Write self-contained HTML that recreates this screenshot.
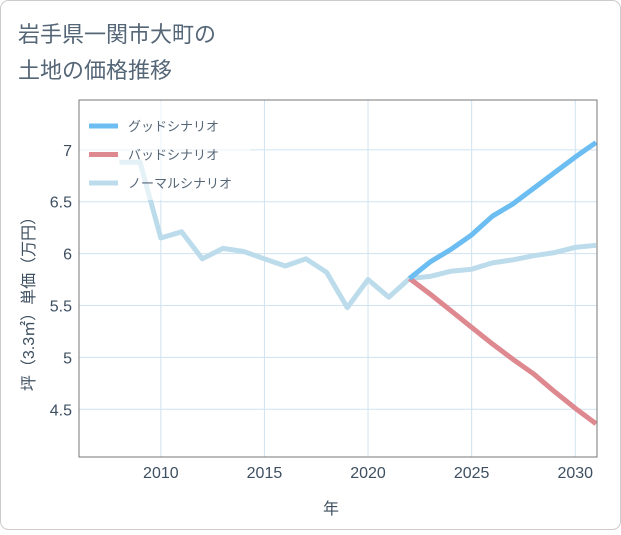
<!DOCTYPE html>
<html><head><meta charset="utf-8"><style>
body{margin:0;background:#fff;}
#wrap{position:relative;width:621px;height:530px;font-family:"Liberation Sans","Noto Sans CJK JP",sans-serif;}
</style></head><body>
<div id="wrap">
<svg id="chart" width="621" height="530" xmlns="http://www.w3.org/2000/svg">
<rect x="0.5" y="0.5" width="620" height="529" rx="8" fill="#fff" stroke="#ccc"/>
<text x="18" y="42" font-size="22" fill="#556677" font-family="Liberation Sans, Noto Sans CJK JP, sans-serif">岩手県一関市大町の</text>
<text x="18" y="78" font-size="22" fill="#556677" font-family="Liberation Sans, Noto Sans CJK JP, sans-serif">土地の価格推移</text>
<g id="grid"></g>
<g id="series"></g>
<rect x="79" y="100" width="518" height="357" fill="none" stroke="#777" stroke-width="1"/>
<g id="legend"></g>
<g id="axes"></g>
<text x="331" y="514" font-size="16" fill="#3d4f60" text-anchor="middle" font-family="Liberation Sans, Noto Sans CJK JP, sans-serif">年</text>
<text transform="translate(34,300) rotate(-90)" font-size="16" fill="#3d4f60" text-anchor="middle" font-family="Liberation Sans, Noto Sans CJK JP, sans-serif">坪（3.3㎡）単価（万円）</text>
</svg>
</div>
<script>
const years = [2008,2009,2010,2011,2012,2013,2014,2015,2016,2017,2018,2019,2020,2021,2022,2023,2024,2025,2026,2027,2028,2029,2030,2031];
const normalValues = [6.88,6.88,6.15,6.21,5.95,6.05,6.02,5.95,5.88,5.95,5.82,5.48,5.75,5.58,5.76,5.78,5.83,5.85,5.91,5.94,5.98,6.01,6.06,6.08];
const goodYears = [2022,2023,2024,2025,2026,2027,2028,2029,2030,2031];
const goodValues = [5.76,5.92,6.04,6.18,6.36,6.48,6.63,6.78,6.93,7.07];
const badYears = [2022,2023,2024,2025,2026,2027,2028,2029,2030,2031];
const badValues = [5.76,5.61,5.45,5.29,5.13,4.98,4.84,4.67,4.51,4.36];
const xTicks = [2010,2015,2020,2025,2030];
const yTicks = [4.5,5,5.5,6,6.5,7];
const yTickLabels = ["4.5","5","5.5","6","6.5","7"];
const legendLabels = ["グッドシナリオ","バッドシナリオ","ノーマルシナリオ"];

const NS="http://www.w3.org/2000/svg";
const L=79,R=597,T=100,B=457;
const xMin=2006.05,xMax=2031.05,yMin=4.04,yMax=7.48;
function xs(v){return L+(v-xMin)/(xMax-xMin)*(R-L);}
function ys(v){return B-(v-yMin)/(yMax-yMin)*(B-T);}
function mk(tag,attrs,parent){const e=document.createElementNS(NS,tag);for(const k in attrs)e.setAttribute(k,attrs[k]);parent.appendChild(e);return e;}
const grid=document.getElementById('grid'),axes=document.getElementById('axes'),series=document.getElementById('series'),legend=document.getElementById('legend');
xTicks.forEach(t=>{
  const l=mk('line',{x1:xs(t),x2:xs(t),y1:T,y2:B,stroke:'#cfe3f0','stroke-width':1},grid);
  
  
  const tx=mk('text',{x:xs(t),y:478,'font-size':16,fill:'#3d4f60','text-anchor':'middle'},axes);
  tx.textContent=t;
  
  
});
yTicks.forEach((t,i)=>{
  const l=mk('line',{x1:L,x2:R,y1:ys(t),y2:ys(t),stroke:'#cfe3f0','stroke-width':1},grid);
  
  
  const tx=mk('text',{x:72,y:ys(t)+6,'font-size':16,fill:'#3d4f60','text-anchor':'end'},axes);
  tx.textContent=yTickLabels[i];
  
  
});
function line(xv,yv,color,name){
  const d=xv.map((x,i)=>(i?'L':'M')+xs(x).toFixed(1)+','+ys(yv[i]).toFixed(1)).join(' ');
  const p=mk('path',{d:d,fill:'none',stroke:color,'stroke-width':5,'stroke-linejoin':'round'},series);
  
  
}
line(years,normalValues,'#bcdcec','normal-scenario-line');
line(badYears,badValues,'#de8890','bad-scenario-line');
line(goodYears,goodValues,'#6cbdf2','good-scenario-line');
const lb=mk('rect',{x:80,y:101,width:170,height:99,fill:'rgba(255,255,255,0.6)'},legend);


const lc=['#6cbdf2','#de8890','#bcdcec'];
legendLabels.forEach((s,i)=>{
  const y=126+i*28.5;
  const sw=mk('line',{x1:89,x2:118,y1:y,y2:y,stroke:lc[i],'stroke-width':5},legend);
  
  
  const tx=mk('text',{x:128,y:y+5,'font-size':13,fill:'#556677'},legend);
  tx.textContent=s;
  
  
});
</script>
</body></html>
